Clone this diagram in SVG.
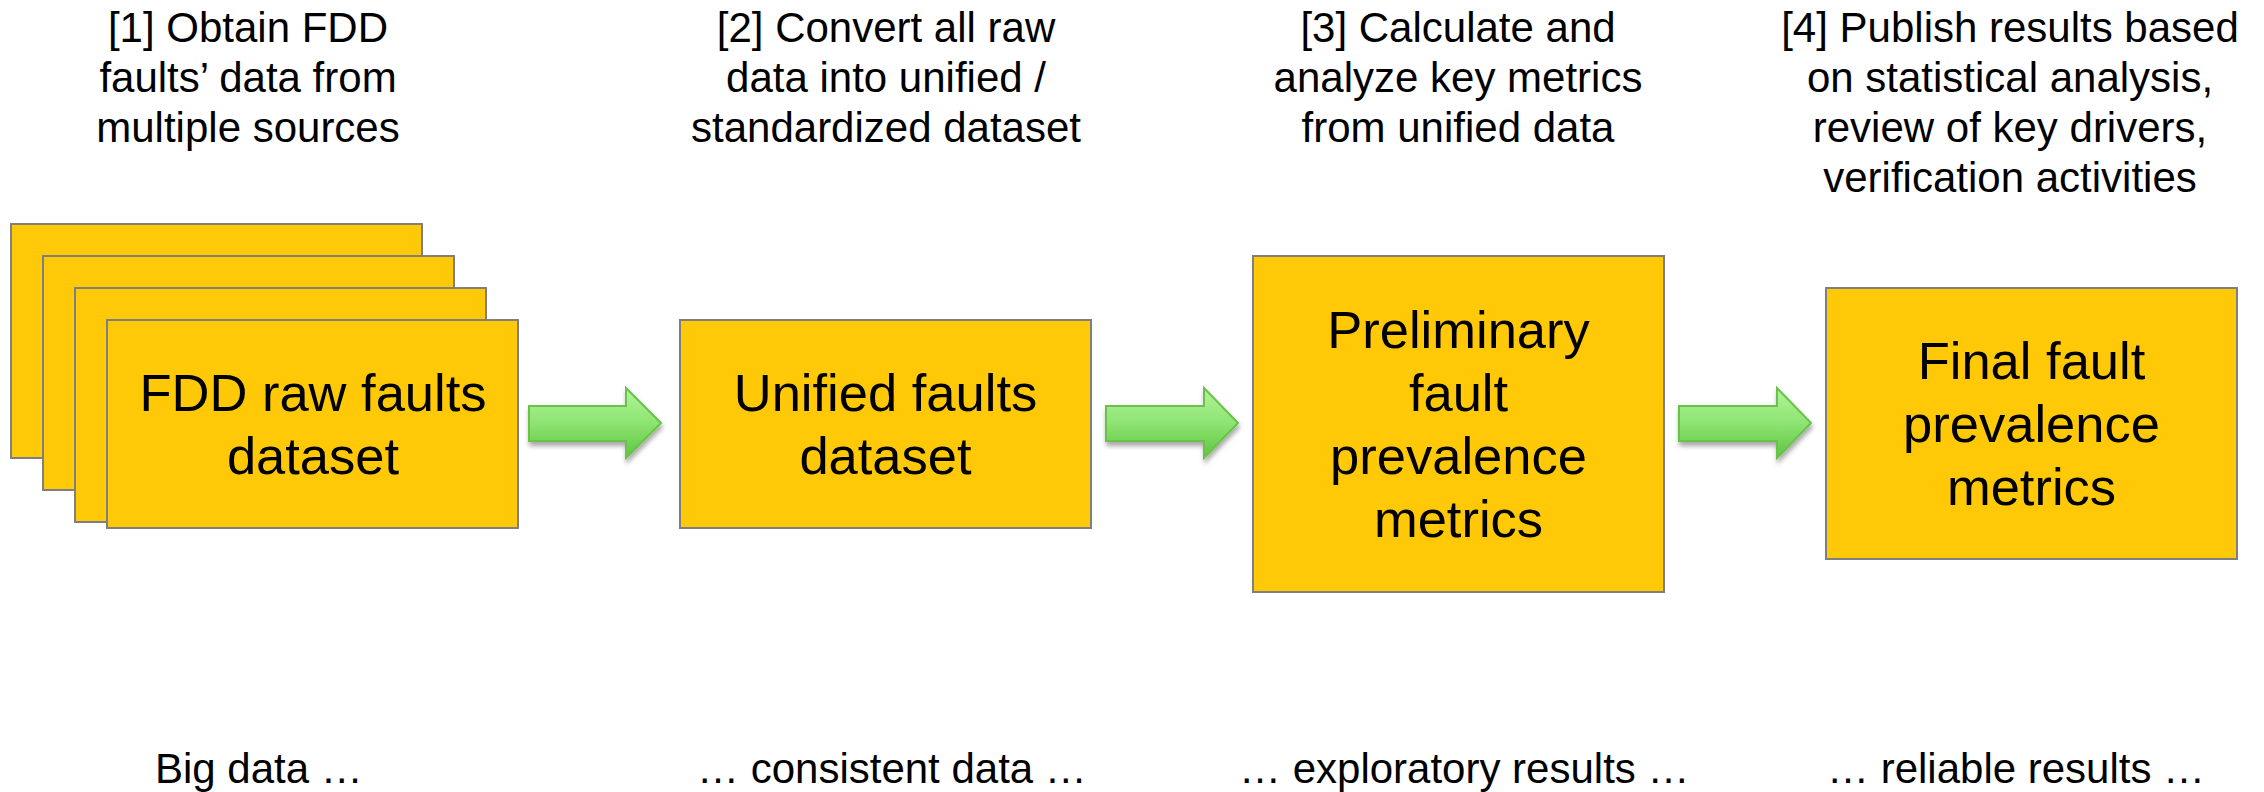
<svg xmlns="http://www.w3.org/2000/svg" width="2264" height="792" viewBox="0 0 2264 792">
<defs>
<linearGradient id="ag" x1="0" y1="0" x2="0" y2="1">
<stop offset="0" stop-color="#b2f59a"/>
<stop offset="0.5" stop-color="#8ee472"/>
<stop offset="1" stop-color="#5ec53f"/>
</linearGradient>
<filter id="sh" x="-10%" y="-20%" width="130%" height="160%">
<feGaussianBlur in="SourceAlpha" stdDeviation="2.5"/>
<feOffset dx="1" dy="4" result="b"/>
<feComponentTransfer><feFuncA type="linear" slope="0.35"/></feComponentTransfer>
<feMerge><feMergeNode/><feMergeNode in="SourceGraphic"/></feMerge>
</filter>
</defs>
<style>
.box{fill:#ffc908;stroke:#7f7f7f;stroke-width:2}
.t{font-family:"Liberation Sans",Arial,sans-serif;fill:#000}
.lbl{font-size:42px}
.bx{font-size:52.5px;text-anchor:middle}
.arr{fill:url(#ag);stroke:#6bc24b;stroke-width:2;filter:url(#sh)}
</style>
<rect width="2264" height="792" fill="#ffffff"/>

<g id="step-labels" class="t lbl" text-anchor="middle">
<text x="248" y="42">[1] Obtain FDD</text>
<text x="248" y="92">faults’ data from</text>
<text x="248" y="142">multiple sources</text>
<text x="886" y="42">[2] Convert all raw</text>
<text x="886" y="92">data into unified /</text>
<text x="886" y="142">standardized dataset</text>
<text x="1458" y="42">[3] Calculate and</text>
<text x="1458" y="92">analyze key metrics</text>
<text x="1458" y="142">from unified data</text>
<text x="2010" y="42">[4] Publish results based</text>
<text x="2010" y="92">on statistical analysis,</text>
<text x="2010" y="142">review of key drivers,</text>
<text x="2010" y="192">verification activities</text>
</g>

<g id="node-raw">
<rect class="box" x="11" y="224" width="411" height="234"/>
<rect class="box" x="43" y="256" width="411" height="234"/>
<rect class="box" x="75" y="288" width="411" height="234"/>
<rect class="box" x="107" y="320" width="411" height="208"/>
<text class="t bx" x="313" y="411">FDD raw faults</text>
<text class="t bx" x="313" y="474">dataset</text>
</g>

<g id="node-unified">
<rect class="box" x="680" y="320" width="411" height="208"/>
<text class="t bx" x="885.5" y="411">Unified faults</text>
<text class="t bx" x="885.5" y="474">dataset</text>
</g>

<g id="node-preliminary">
<rect class="box" x="1253" y="256" width="411" height="336"/>
<text class="t bx" x="1458.5" y="348">Preliminary</text>
<text class="t bx" x="1458.5" y="411">fault</text>
<text class="t bx" x="1458.5" y="474">prevalence</text>
<text class="t bx" x="1458.5" y="537">metrics</text>
</g>

<g id="node-final">
<rect class="box" x="1826" y="288" width="411" height="271"/>
<text class="t bx" x="2031.5" y="379">Final fault</text>
<text class="t bx" x="2031.5" y="442">prevalence</text>
<text class="t bx" x="2031.5" y="505">metrics</text>
</g>

<g id="connectors">
<path class="arr" d="M529 406 H626 V388 L661 423 L626 458 V441 H529 Z"/>
<path class="arr" d="M1106 406 H1204 V388 L1238 423 L1204 458 V441 H1106 Z"/>
<path class="arr" d="M1679 406 H1777 V388 L1811 423 L1777 458 V441 H1679 Z"/>
</g>

<g id="bottom-labels" class="t lbl">
<text x="155" y="783">Big data …</text>
<text x="697" y="783">… consistent data …</text>
<text x="1239" y="783">… exploratory results …</text>
<text x="1827" y="783">… reliable results …</text>
</g>
</svg>
